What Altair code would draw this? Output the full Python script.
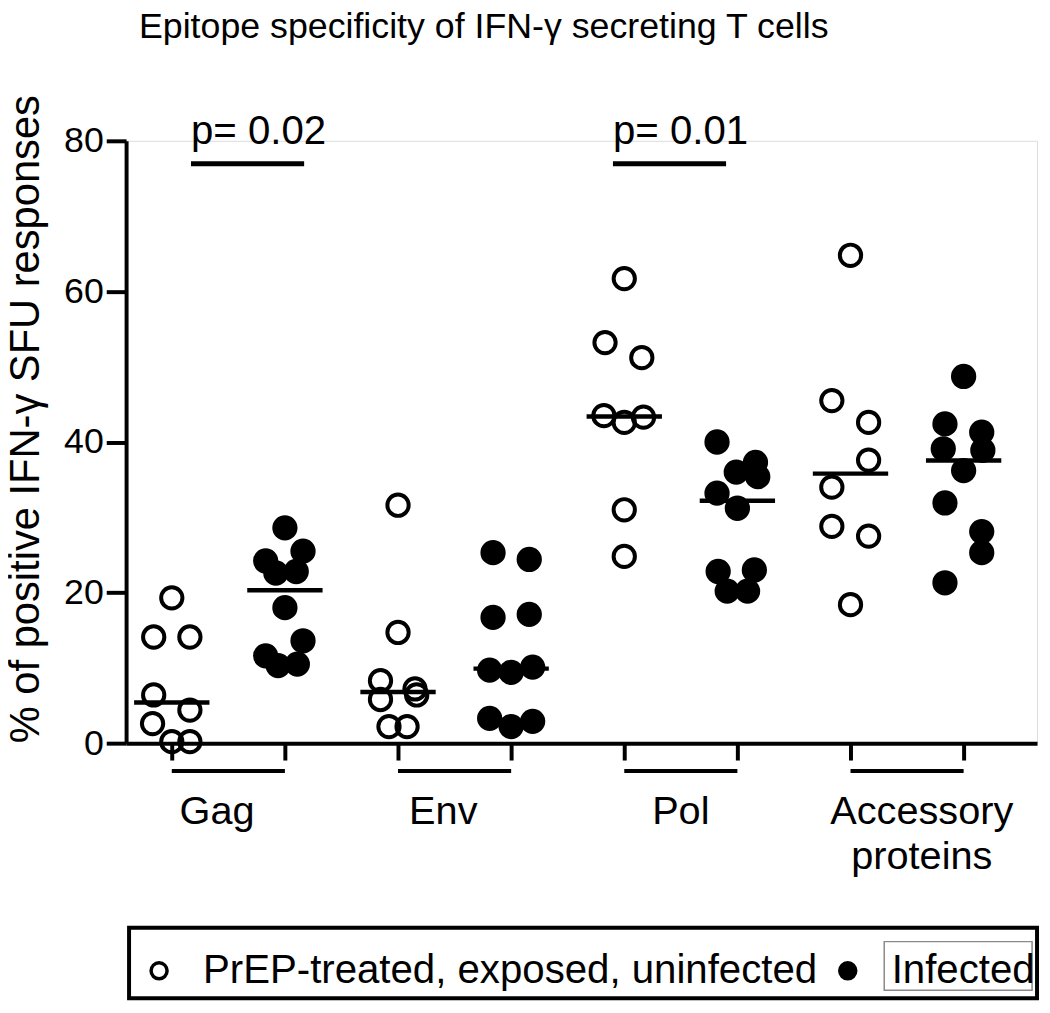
import altair as alt
import pandas as pd

# ---------------- data ----------------
categories = ["Gag", "Env", "Pol", "Accessory\nproteins"]
groups = ["PrEP-treated, exposed, uninfected", "Infected"]
chart_title = "Epitope specificity of IFN-γ secreting T cells"

gag_prep = [19.3, 14.1, 14.1, 6.4, 4.4, 2.6, 0.2, 0.2]
gag_prep_jit = [0.0, -0.16, 0.16, -0.16, 0.16, -0.17, 0.0, 0.16]
gag_inf = [28.6, 25.5, 24.2, 22.6, 22.8, 18.0, 13.6, 11.6, 10.3, 10.5]
gag_inf_jit = [0.0, 0.16, -0.17, -0.08, 0.10, 0.0, 0.16, -0.17, -0.06, 0.11]

env_prep = [31.6, 14.7, 8.3, 5.8, 7.2, 6.4, 2.2, 2.2]
env_prep_jit = [0.0, 0.0, -0.155, -0.155, 0.15, 0.165, -0.08, 0.08]
env_inf = [25.3, 24.4, 16.7, 17.1, 9.7, 9.4, 10.1, 3.3, 2.2, 2.9]
env_inf_jit = [-0.16, 0.16, -0.16, 0.16, -0.19, 0.0, 0.19, -0.19, 0.0, 0.19]

pol_prep = [61.7, 53.2, 51.2, 43.5, 42.6, 43.3, 31.0, 24.8]
pol_prep_jit = [0.0, -0.17, 0.155, -0.18, 0.0, 0.17, 0.0, 0.0]
pol_inf = [40.0, 37.3, 36.0, 35.4, 33.2, 31.2, 22.8, 23.0, 20.2, 20.2]
pol_inf_jit = [-0.18, 0.16, -0.01, 0.18, -0.18, 0.0, -0.17, 0.15, -0.09, 0.09]

acc_prep = [64.8, 45.5, 42.6, 37.6, 34.0, 28.8, 27.5, 18.4]
acc_prep_jit = [0.0, -0.165, 0.16, 0.16, -0.165, -0.165, 0.16, 0.0]
acc_inf = [48.7, 42.4, 41.3, 39.1, 38.9, 36.2, 31.9, 28.1, 25.3, 21.3]
acc_inf_jit = [0.0, -0.165, 0.16, -0.18, 0.17, 0.0, -0.165, 0.16, 0.16, -0.165]

p_labels = ["p= 0.02", "p= 0.01"]
p_pairs = [(0, 1), (4, 5)]

# ---------------- tables ----------------
series = [
    (categories[0], groups[0], gag_prep, gag_prep_jit),
    (categories[0], groups[1], gag_inf, gag_inf_jit),
    (categories[1], groups[0], env_prep, env_prep_jit),
    (categories[1], groups[1], env_inf, env_inf_jit),
    (categories[2], groups[0], pol_prep, pol_prep_jit),
    (categories[2], groups[1], pol_inf, pol_inf_jit),
    (categories[3], groups[0], acc_prep, acc_prep_jit),
    (categories[3], groups[1], acc_inf, acc_inf_jit),
]
rows = []
for col, (cat, grp, vals, jit) in enumerate(series):
    for v, j in zip(vals, jit):
        rows.append({"category": cat, "group": grp, "col": col, "x": col + j, "value": v})
df = pd.DataFrame(rows)

label_shift = [-0.10, -0.10, 0.0, 0.13]   # slight horizontal offsets of group labels
cat_df = pd.DataFrame({"category": categories,
                       "c0": [2 * i for i in range(len(categories))],
                       "c1": [2 * i + 1 for i in range(len(categories))]})
cat_df["mid"] = (cat_df["c0"] + cat_df["c1"]) / 2 + pd.Series(label_shift)

p_shift = [0.17, -0.10]  # horizontal placement of the significance bars
p_df = pd.DataFrame({"label": p_labels,
                     "x0": [a + s for (a, b), s in zip(p_pairs, p_shift)],
                     "x1": [b + s for (a, b), s in zip(p_pairs, p_shift)]})

# ---------------- chart ----------------
FONT = "Liberation Sans"
W, H = 918, 607
X = alt.Scale(domain=[-0.404, 7.649], nice=False, zero=False)
Y = alt.Scale(domain=[0, 80], nice=False)

points = alt.Chart(df).mark_point(
    shape="circle", size=460, strokeWidth=4, stroke="black", filled=True, opacity=1
).encode(
    x=alt.X("x:Q", scale=X, axis=alt.Axis(
        values=list(range(8)), labels=False, title=None, grid=False,
        tickSize=17, tickWidth=4, domainWidth=4, domainColor="black", tickColor="black")),
    y=alt.Y("value:Q", scale=Y, axis=alt.Axis(
        values=[0, 20, 40, 60, 80], grid=False,
        title="% of positive IFN-γ SFU responses",
        titleFont=FONT, titleFontSize=42, titleFontWeight="normal", titleColor="black",
        titleAngle=270, titleX=-101, titleY=280, titleAlign="center", titleBaseline="middle",
        labelFont=FONT, labelFontSize=36, labelColor="black", labelPadding=3,
        tickSize=20, tickWidth=4, domainWidth=4, domainColor="black", tickColor="black")),
    fill=alt.Fill("group:N", scale=alt.Scale(domain=groups, range=["transparent", "black"]),
                  legend=alt.Legend(title=None, orient="none", legendX=13, legendY=816,
                                    direction="horizontal", symbolType="circle", symbolSize=260,
                                    symbolStrokeColor="black", symbolStrokeWidth=3.5,
                                    labelFont=FONT, labelFontSize=40.5, labelColor="black",
                                    labelOffset=24, columnPadding=10, padding=0, labelLimit=0)),
)

medians = alt.Chart(df).transform_aggregate(
    med="median(value)", groupby=["col"]
).transform_calculate(
    xa="datum.col - 0.333", xb="datum.col + 0.333"
).mark_rule(strokeWidth=4.5, color="black").encode(
    x=alt.X("xa:Q", scale=X), x2="xb:Q", y=alt.Y("med:Q", scale=Y))

brackets = alt.Chart(cat_df).mark_rule(strokeWidth=4, color="black").encode(
    x=alt.X("c0:Q", scale=X), x2="c1:Q", y=alt.value(635))

cat_labels = alt.Chart(cat_df).mark_text(
    font=FONT, fontSize=40, baseline="top", lineBreak="\n", lineHeight=46, color="black"
).encode(x=alt.X("mid:Q", scale=X), y=alt.value(656), text="category:N")

p_bars = alt.Chart(p_df).mark_rule(strokeWidth=5, color="black").encode(
    x=alt.X("x0:Q", scale=X), x2="x1:Q", y=alt.value(23))

p_text = alt.Chart(p_df).mark_text(
    font=FONT, fontSize=40.5, align="left", baseline="alphabetic", color="black"
).encode(x=alt.X("x0:Q", scale=X), y=alt.value(3), text="label:N")

title_df = pd.DataFrame({"title": [chart_title]})
title_text = alt.Chart(title_df).mark_text(
    font=FONT, fontSize=36, align="left", baseline="alphabetic", color="black"
).encode(x=alt.value(13), y=alt.value(-104), text="title:N")

frame_df = pd.DataFrame({"k": [0]})
legend_box = alt.Chart(frame_df).mark_rect(
    fill="transparent", stroke="black", strokeWidth=4
).encode(x=alt.value(3), x2=alt.value(918), y=alt.value(793), y2=alt.value(864))

infected_box = alt.Chart(frame_df).mark_rect(
    fill="transparent", stroke="#8a8a8a", strokeWidth=1.5
).encode(x=alt.value(764), x2=alt.value(913), y=alt.value(807), y2=alt.value(856))

chart = alt.layer(
    medians, brackets, cat_labels, p_bars, p_text, title_text, legend_box, infected_box, points
).properties(
    width=W, height=H,
    autosize=alt.AutoSizeParams(type="none"),
    padding={"left": 119, "top": 130, "right": 5, "bottom": 259},
).configure_view(stroke=None).configure(background="white")

chart.save("out.html", embed_options={"renderer": "svg", "actions": False})
